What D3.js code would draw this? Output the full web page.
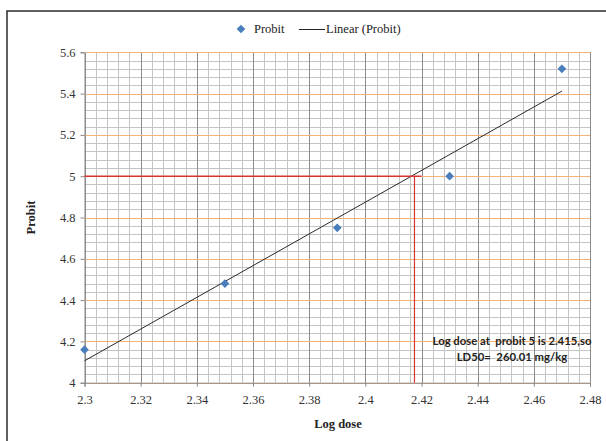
<!DOCTYPE html>
<html>
<head>
<meta charset="utf-8">
<script src="https://cdn.jsdelivr.net/npm/d3@7"></script>
<style>
  body { margin: 0; background: #fff; }
  svg { display: block; }
</style>
</head>
<body>
<div id="chart"></div>
<script>
// data
const logDose = [2.3, 2.35, 2.39, 2.43, 2.47];
const probit = [4.16, 4.48, 4.75, 5.0, 5.52];
const xTicks = [2.3, 2.32, 2.34, 2.36, 2.38, 2.4, 2.42, 2.44, 2.46, 2.48];
const yTicks = [4, 4.2, 4.4, 4.6, 4.8, 5, 5.2, 5.4, 5.6];
const ld50Probit = 5;
const ld50LogDose = 2.4175;
const noteLines = ["Log dose at  probit 5 is 2.415,so", "LD50=  260.01 mg/kg"];

const width = 606, height = 441;
const svg = d3.select("#chart").append("svg")
  .attr("width", width)
  .attr("height", height);

// outer chart border (cut off at right and bottom)
svg.append("rect")
  .attr("x", 7).attr("y", 11)
  .attr("width", 800).attr("height", 600)
  .attr("fill", "#fff")
  .attr("stroke", "#2b2b2b")
  .attr("stroke-width", 1.5);

const x = d3.scaleLinear().domain([2.3, 2.48]).range([84.5, 590]);
const y = d3.scaleLinear().domain([4, 5.6]).range([382.7, 52.3]);

const grid = svg.append("g");

// minor grid
const xMinor = d3.range(0, 46).map((i) => 2.3 + i * 0.004);
const yMinor = d3.range(0, 41).map((i) => 4 + i * 0.04);
grid.selectAll(".vmin").data(xMinor).enter().append("line")
  .attr("x1", (d) => Math.round(x(d)) + 0.5).attr("x2", (d) => Math.round(x(d)) + 0.5)
  .attr("y1", y(4)).attr("y2", y(5.6))
  .attr("stroke", "#c4c4c4").attr("stroke-width", 1);
grid.selectAll(".hmin").data(yMinor).enter().append("line")
  .attr("x1", x(2.3)).attr("x2", x(2.48))
  .attr("y1", (d) => Math.round(y(d)) + 0.5).attr("y2", (d) => Math.round(y(d)) + 0.5)
  .attr("stroke", "#c4c4c4").attr("stroke-width", 1);

// major grid
grid.selectAll(".vmaj").data(xTicks).enter().append("line")
  .attr("x1", (d) => Math.round(x(d)) + 0.5).attr("x2", (d) => Math.round(x(d)) + 0.5)
  .attr("y1", y(4)).attr("y2", y(5.6))
  .attr("stroke", "#8a8a8a").attr("stroke-width", 1);
grid.selectAll(".hmaj").data(yTicks).enter().append("line")
  .attr("x1", x(2.3)).attr("x2", x(2.48))
  .attr("y1", (d) => Math.round(y(d)) + 0.5).attr("y2", (d) => Math.round(y(d)) + 0.5)
  .attr("stroke", "#f4b37a").attr("stroke-width", 1.2);

// axes
const xAxis = d3.axisBottom(x).tickValues(xTicks).tickSize(4).tickPadding(6)
  .tickFormat((d) => d3.format("")(+d.toFixed(2)));
const yAxis = d3.axisLeft(y).tickValues(yTicks).tickSize(4).tickPadding(5)
  .tickFormat((d) => d3.format("")(+d.toFixed(1)));

const gx = svg.append("g").attr("transform", `translate(0,${y(4)})`).call(xAxis);
const gy = svg.append("g").attr("transform", `translate(${x(2.3)},0)`).call(yAxis);
[gx, gy].forEach((g) => {
  g.select(".domain").attr("stroke", "#8a8a8a");
  g.selectAll(".tick line").attr("stroke", "#8a8a8a");
  g.selectAll("text")
    .attr("fill", "#333")
    .style("font-family", "'Liberation Serif', 'Times New Roman', serif")
    .style("font-size", "12.5px");
});
gx.selectAll("text").attr("dy", "0.9em");

// trend line (least squares fit of the data)
const mx = d3.mean(logDose), my = d3.mean(probit);
const slope = d3.sum(logDose, (d, i) => (d - mx) * (probit[i] - my)) /
  d3.sum(logDose, (d) => (d - mx) * (d - mx));
const intercept = my - slope * mx;
const xs = d3.extent(logDose);
svg.append("line")
  .attr("x1", x(xs[0])).attr("y1", y(intercept + slope * xs[0]))
  .attr("x2", x(xs[1])).attr("y2", y(intercept + slope * xs[1]))
  .attr("stroke", "#2a2a2a").attr("stroke-width", 1);

// LD50 guide lines
svg.append("line")
  .attr("x1", x(2.3)).attr("x2", x(2.42))
  .attr("y1", y(ld50Probit)).attr("y2", y(ld50Probit))
  .attr("stroke", "#d9352e").attr("stroke-width", 1.5);
svg.append("line")
  .attr("x1", x(ld50LogDose)).attr("x2", x(ld50LogDose))
  .attr("y1", y(ld50Probit)).attr("y2", y(4))
  .attr("stroke", "#d9352e").attr("stroke-width", 1.2);

// points
const diamond = d3.symbol().type(d3.symbolDiamond2).size(48);
svg.selectAll(".dot").data(logDose).enter().append("path")
  .attr("class", "dot")
  .attr("d", diamond)
  .attr("transform", (d, i) => `translate(${x(d)},${y(probit[i])})`)
  .attr("fill", "#4a7ebb");

// annotation
svg.append("text")
  .attr("x", 512).attr("y", y(4.2) + 4)
  .attr("text-anchor", "middle")
  .attr("xml:space", "preserve")
  .style("font-family", "Lato, 'Open Sans', sans-serif")
  .style("font-weight", "bold")
  .style("font-size", "11.3px")
  .attr("fill", "#222")
  .selectAll("tspan").data(noteLines).enter().append("tspan")
  .attr("x", 512)
  .attr("dy", (d, i) => i === 0 ? 0 : 16)
  .text((d) => d);

// axis titles
const serif = "'Liberation Serif', 'Times New Roman', serif";
svg.append("text")
  .attr("transform", `translate(35,${(y(4) + y(5.6)) / 2}) rotate(-90)`)
  .attr("text-anchor", "middle")
  .style("font-family", serif).style("font-weight", "bold").style("font-size", "12.5px")
  .attr("fill", "#222")
  .text("Probit");
svg.append("text")
  .attr("x", 338).attr("y", 428)
  .attr("text-anchor", "middle")
  .style("font-family", serif).style("font-weight", "bold").style("font-size", "12.5px")
  .attr("fill", "#222")
  .text("Log dose");

// legend
const legend = svg.append("g").attr("transform", "translate(0,29)");
legend.append("path")
  .attr("d", diamond)
  .attr("transform", "translate(241,0)")
  .attr("fill", "#4a7ebb");
legend.append("text")
  .attr("x", 254).attr("y", 4)
  .style("font-family", serif).style("font-size", "12.5px").attr("fill", "#222")
  .text("Probit");
legend.append("line")
  .attr("x1", 299).attr("x2", 325).attr("y1", 0.5).attr("y2", 0.5)
  .attr("stroke", "#222").attr("stroke-width", 1);
legend.append("text")
  .attr("x", 326).attr("y", 4)
  .style("font-family", serif).style("font-size", "12.5px").attr("fill", "#222")
  .text("Linear (Probit)");
</script>
</body>
</html>
